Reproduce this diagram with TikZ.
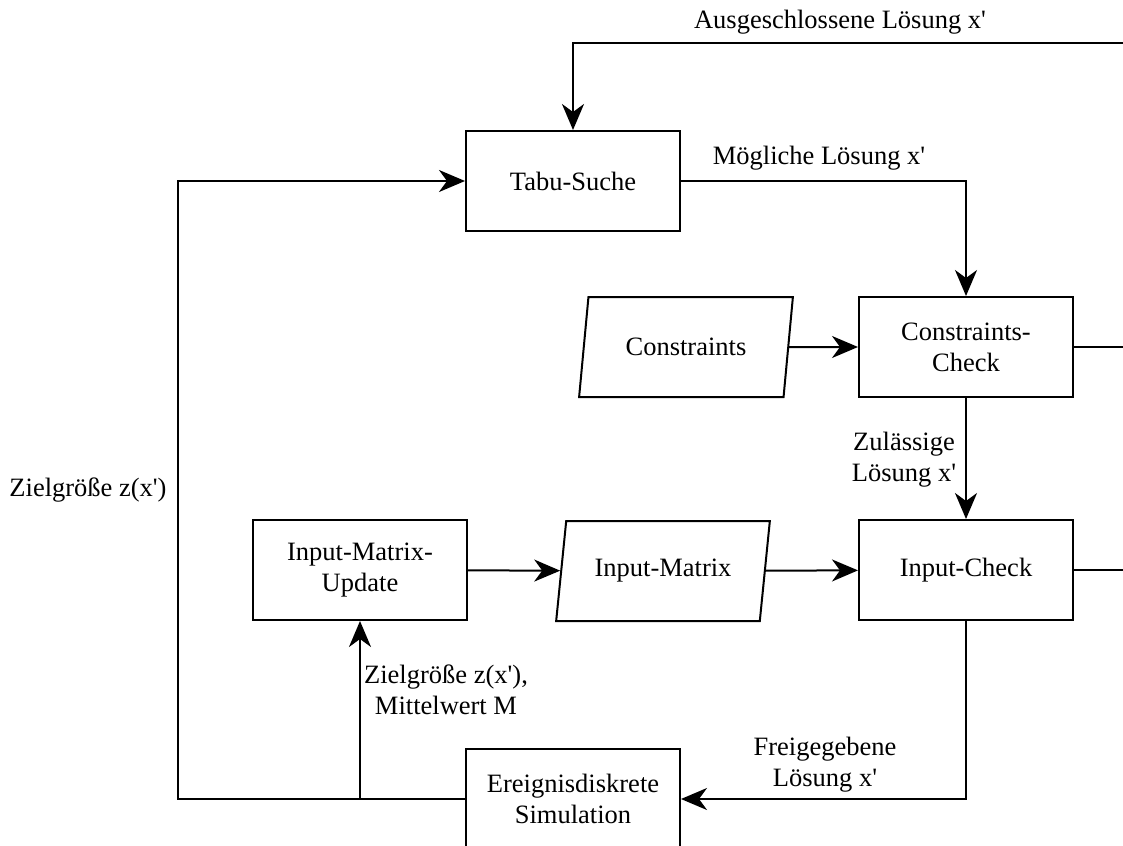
\documentclass[tikz,border=0pt]{standalone}
\usepackage{fontspec}
\setmainfont{Liberation Serif}
\usetikzlibrary{shapes.geometric, arrows.meta, positioning}
\newcommand{\prm}{\textquotesingle}

\begin{document}
\begin{tikzpicture}[
    x=1pt, y=-1pt,
    font=\fontsize{26.5}{31}\selectfont,
    stage/.style={rectangle, draw=black, line width=2pt, align=center, minimum width=214pt, minimum height=100pt},
    datain/.style={trapezium, trapezium left angle=76, trapezium right angle=104, trapezium stretches=true, draw=black, line width=2pt, align=center, minimum width=214pt, minimum height=100pt},
    lbl/.style={align=center, inner sep=0pt},
    arrow/.style={-{Stealth[length=26pt, width=22pt, inset=8pt]}, line width=2pt, draw=black},
    wire/.style={line width=2pt, draw=black}
]
\useasboundingbox (0,0) rectangle (1123,845);

% Stages
\node[stage] (tabu) at (573,181) {Tabu-Suche};
\node[stage] (ccheck) at (966,347) {Constraints-\\Check};
\node[stage] (icheck) at (966,570) {Input-Check};
\node[stage] (update) at (360,570) {Input-Matrix-\\Update};
\node[stage] (sim) at (573,799) {Ereignisdiskrete\\Simulation};

% Data inputs
\node[datain] (constr) at (686,347) {Constraints};
\node[datain] (imatrix) at (663,571) {Input-Matrix};

% Exits past the right edge
\coordinate (excl) at (1140,43);
\coordinate (cexit) at (1140,347);
\coordinate (iexit) at (1140,570);
\coordinate (loop) at (178,799);

% Labels
\node[lbl] (lexcl) at (840,22) {Ausgeschlossene Lösung x\prm};
\node[lbl] (lposs) at (819,158) {Mögliche Lösung x\prm};
\node[lbl] (lvalid) at (904,460) {Zulässige\\Lösung x\prm};
\node[lbl] (lfree) at (825,765) {Freigegebene\\Lösung x\prm};
\node[lbl] (lmean) at (446,690) {Zielgröße z(x\prm),\\Mittelwert M};
\node[lbl] (lgoal) at (88,490) {Zielgröße z(x\prm)};

% Arrows
\draw[arrow] (excl) -| (tabu.north);
\draw[arrow] (tabu.east) -| (ccheck.north);
\draw[arrow] (constr) -- (ccheck);
\draw[wire] (ccheck.east) -- (cexit);
\draw[arrow] (ccheck) -- (icheck);
\draw[wire] (icheck.east) -- (iexit);
\draw[arrow] (update) -- (imatrix);
\draw[arrow] (imatrix) -- (icheck);
\draw[arrow] (icheck.south) |- (sim.east);
\draw[arrow] (sim.west) -- (loop) |- (tabu.west);
\draw[arrow] (sim.west -| update.south) -- (update.south);

\end{tikzpicture}
\end{document}
